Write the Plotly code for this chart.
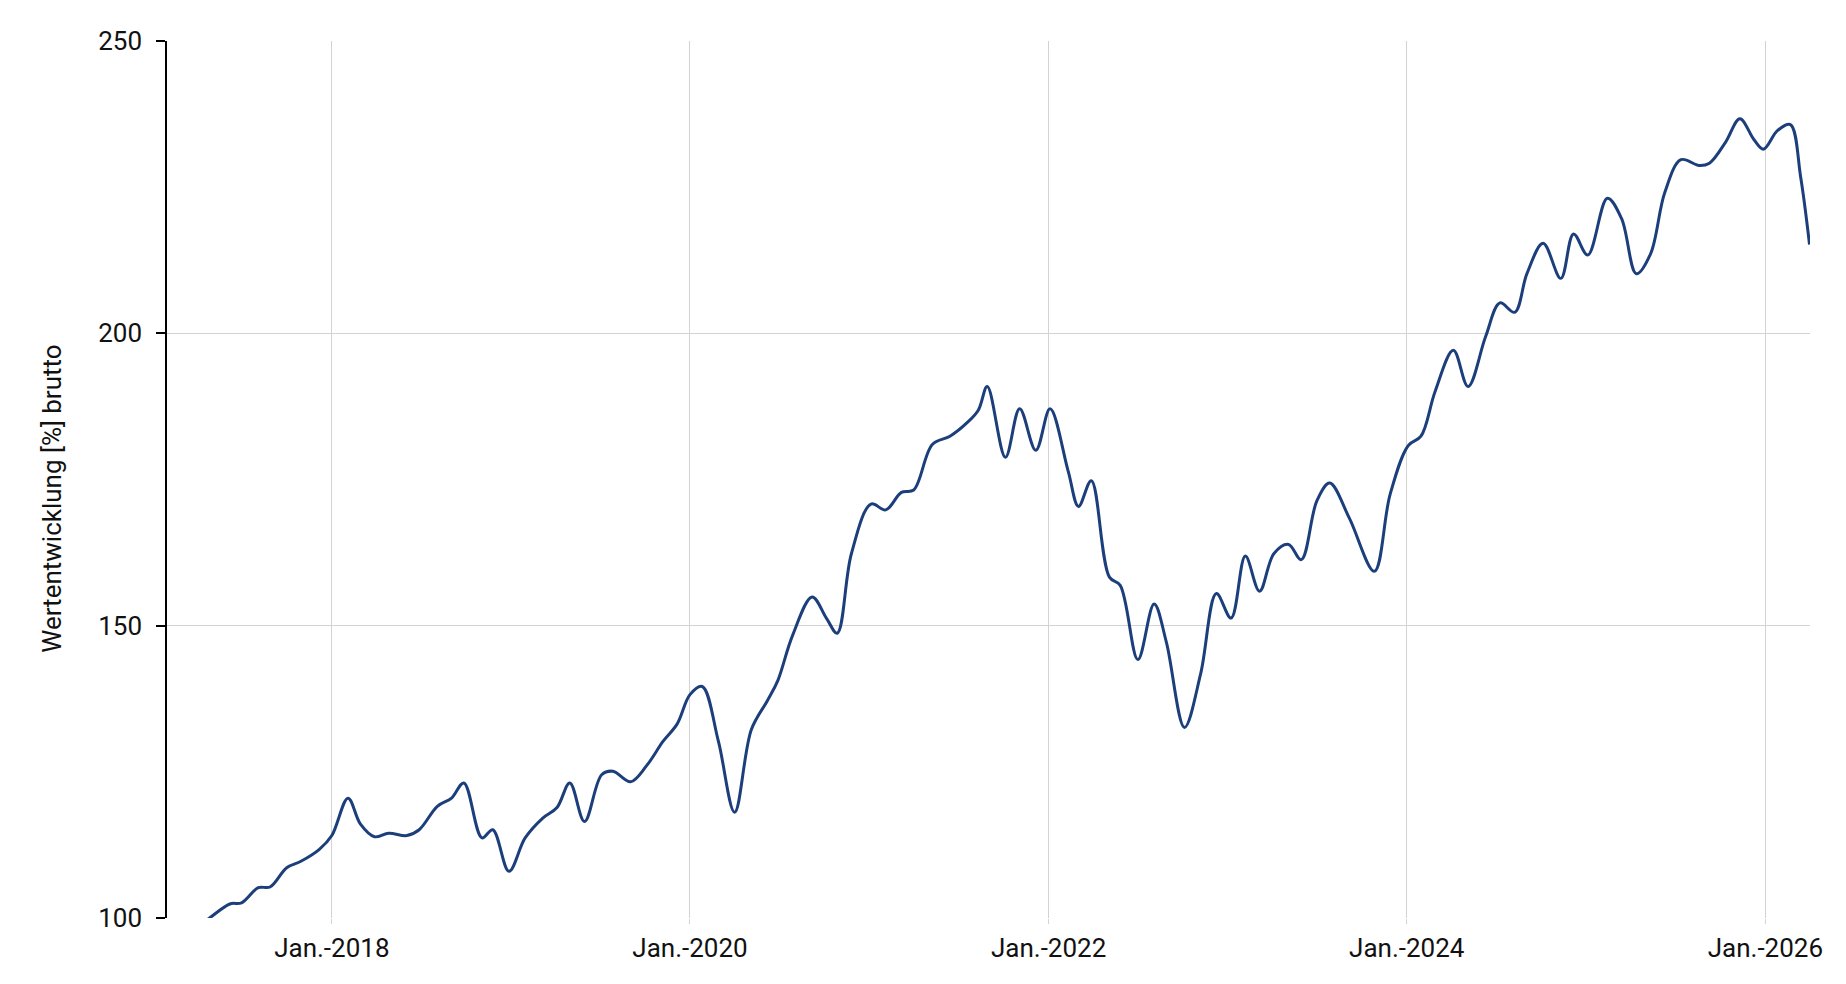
import plotly.graph_objects as go

# values (date, gross performance in %)
dates = [
    "2017-02-01", "2017-04-20", "2017-06-07", "2017-07-01", "2017-08-04", "2017-08-28",
    "2017-10-01", "2017-10-30", "2017-12-06", "2018-01-01", "2018-02-03", "2018-02-28",
    "2018-03-29", "2018-04-27", "2018-06-03", "2018-06-28", "2018-08-04", "2018-09-02",
    "2018-09-27", "2018-11-03", "2018-11-25", "2018-12-28", "2019-01-30", "2019-03-07",
    "2019-04-05", "2019-05-01", "2019-05-31", "2019-07-05", "2019-07-28", "2019-09-02",
    "2019-10-05", "2019-11-07", "2019-12-06", "2020-01-01", "2020-01-26", "2020-02-28",
    "2020-04-01", "2020-05-05", "2020-06-07", "2020-06-28", "2020-07-28", "2020-09-06",
    "2020-10-05", "2020-10-27", "2020-11-25", "2021-01-04", "2021-02-03", "2021-03-07",
    "2021-04-01", "2021-05-09", "2021-06-14", "2021-07-20", "2021-08-11", "2021-08-29",
    "2021-10-05", "2021-11-03", "2021-12-06", "2022-01-04", "2022-02-10", "2022-03-03",
    "2022-03-29", "2022-05-05", "2022-05-27", "2022-07-02", "2022-08-04", "2022-08-29",
    "2022-10-05", "2022-11-07", "2022-12-09", "2023-01-08", "2023-02-06", "2023-03-07",
    "2023-04-05", "2023-05-05", "2023-05-31", "2023-07-02", "2023-07-28", "2023-09-06",
    "2023-10-27", "2023-11-28", "2024-01-04", "2024-01-30", "2024-02-28", "2024-04-05",
    "2024-05-05", "2024-06-10", "2024-07-09", "2024-08-08", "2024-09-02", "2024-10-05",
    "2024-11-10", "2024-12-06", "2025-01-04", "2025-02-13", "2025-03-14", "2025-04-13",
    "2025-05-12", "2025-06-10", "2025-07-13", "2025-08-19", "2025-09-09", "2025-10-12",
    "2025-11-10", "2025-12-09", "2025-12-28", "2026-01-26", "2026-02-21", "2026-03-14",
    "2026-04-01",
]
werte = [
    95.5, 99.6, 102.4, 102.6, 105.2, 105.3,
    108.6, 109.7, 111.7, 114.1, 120.5, 116.1,
    113.9, 114.5, 114.1, 115.1, 119.1, 120.5,
    123.1, 113.7, 115.1, 108.0, 113.7, 117.1,
    118.9, 123.1, 116.5, 124.5, 125.1, 123.3,
    126.1, 130.2, 133.2, 138.2, 139.6, 130.2,
    118.1, 132.2, 137.2, 140.6, 148.3, 154.9,
    151.3, 148.7, 162.3, 170.8, 169.8, 172.8,
    173.2, 181.0, 182.4, 184.8, 186.9, 190.9,
    178.8, 187.1, 180.0, 187.1, 176.4, 170.4,
    174.8, 158.3, 156.9, 144.2, 153.7, 147.2,
    132.6, 141.8, 155.5, 151.3, 161.9, 155.9,
    162.3, 163.9, 161.3, 171.4, 174.4, 168.4,
    159.3, 172.4, 180.8, 182.4, 190.1, 197.1,
    190.9, 199.5, 205.2, 203.6, 210.2, 215.4,
    209.4, 217.0, 213.4, 223.1, 219.6, 210.2,
    213.6, 224.1, 229.7, 228.7, 229.1, 232.7,
    236.7, 233.1, 231.5, 234.7, 235.7, 226.7,
    215.2,
]

x_ticks = ["2018-01-01", "2020-01-01", "2022-01-01", "2024-01-01", "2026-01-01"]
x_labels = ["Jan.-2018", "Jan.-2020", "Jan.-2022", "Jan.-2024", "Jan.-2026"]
y_ticks = [100, 150, 200, 250]
y_title = "Wertentwicklung [%] brutto"

fig = go.Figure()
fig.add_trace(go.Scatter(
    x=dates, y=werte, mode="lines",
    line=dict(color="#1c3f7c", width=3, shape="spline", smoothing=1.0),
    hoverinfo="skip", showlegend=False,
))

# page body adds 8px, so the figure is a bit smaller than the window
fig.update_layout(
    width=1830, height=968,
    margin=dict(l=159, r=28, t=33, b=58),
    paper_bgcolor="white", plot_bgcolor="white",
    font=dict(family="Roboto", size=26, color="#111111"),
)
fig.update_xaxes(
    type="date", range=["2017-01-30", "2026-04-02"],
    tickvals=x_ticks, ticktext=x_labels,
    showgrid=True, gridcolor="#d3d3d3", gridwidth=1.3,
    ticks="outside", ticklen=5, tickcolor="#d3d3d3", tickwidth=1.3,
    ticklabelstandoff=2,
    showline=False, zeroline=False,
)
fig.update_yaxes(
    range=[100, 250], tickvals=y_ticks,
    showgrid=True, gridcolor="#d3d3d3", gridwidth=1.3,
    showline=True, linecolor="black", linewidth=1.5,
    ticks="outside", ticklen=9, tickcolor="black", tickwidth=1.5,
    ticklabelstandoff=9,
    zeroline=False,
)
# axis title placed as annotation (sits a little below the plot centre)
fig.add_annotation(
    text=y_title, textangle=-90, showarrow=False,
    xref="paper", yref="paper", x=-0.07, y=0.478,
    xanchor="center", yanchor="middle",
    font=dict(family="Roboto", size=26, color="#111111"),
)

fig.write_html("out.html")
